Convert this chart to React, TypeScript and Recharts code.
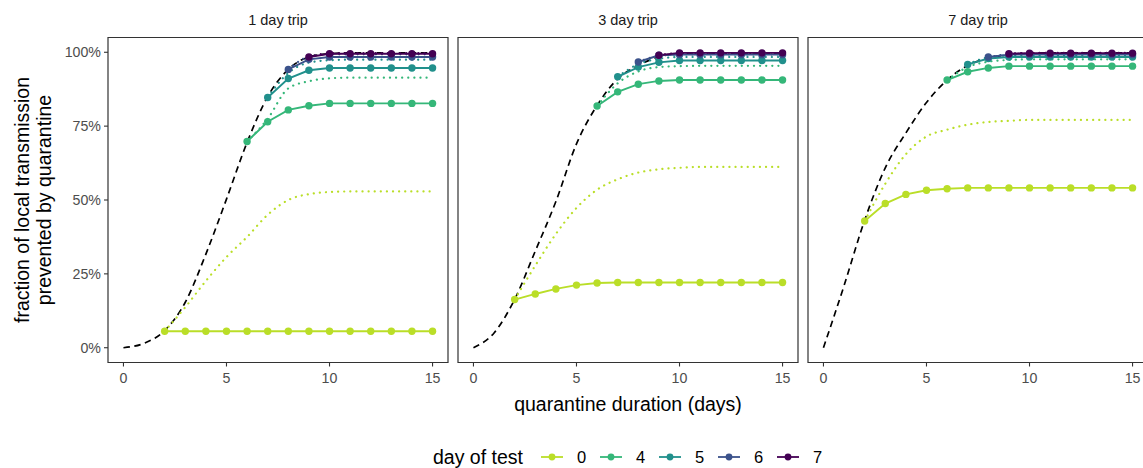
import React from 'react';
import { LineChart, Line, XAxis, YAxis, ReferenceArea } from 'recharts';

const durations = [0, 1, 2, 3, 4, 5, 6, 7, 8, 9, 10, 11, 12, 13, 14, 15];
const tripLabels = ['1 day trip', '3 day trip', '7 day trip'];
const testDays = [0, 4, 5, 6, 7];
const testColors = ['#BADE28', '#35B779', '#21908C', '#3B528B', '#440154'];
const xTicks = [0, 5, 10, 15];
const yTicks = [0, 25, 50, 75, 100];
const N = null;

// ---- 1 day trip ----
const noTest1 = [0, 1.5, 5.8, 15.4, 31.7, 50.3, 69.5, 85, 94.2, 98.4, 99.5, 99.8, 99.8, 99.8, 99.8, 99.8];
const solid0_1 = [N, N, 5.6, 5.6, 5.6, 5.6, 5.6, 5.6, 5.6, 5.6, 5.6, 5.6, 5.6, 5.6, 5.6, 5.6];
const solid4_1 = [N, N, N, N, N, N, 69.8, 76.5, 80.5, 81.9, 82.7, 82.7, 82.7, 82.7, 82.7, 82.7];
const solid5_1 = [N, N, N, N, N, N, N, 84.7, 91.1, 93.9, 94.7, 94.7, 94.7, 94.7, 94.7, 94.7];
const solid6_1 = [N, N, N, N, N, N, N, N, 94.2, 97.6, 98.4, 98.4, 98.4, 98.4, 98.4, 98.4];
const solid7_1 = [N, N, N, N, N, N, N, N, N, 98.4, 99.5, 99.5, 99.5, 99.5, 99.5, 99.5];
const dotted0_1 = [N, N, 5.6, 13.7, 22.6, 30.7, 37.5, 45, 50, 52, 52.7, 52.9, 52.9, 52.9, 52.9, 52.9];
const dotted4_1 = [N, N, N, N, N, N, 69.8, 77.5, 87.8, 90.2, 91.2, 91.4, 91.4, 91.4, 91.4, 91.4];
const dotted5_1 = [N, N, N, N, N, N, N, 84.7, 93, 96.5, 97.3, 97.5, 97.5, 97.5, 97.5, 97.5];
const dotted6_1 = [N, N, N, N, N, N, N, N, 94.2, 98.5, 99.3, 99.3, 99.3, 99.3, 99.3, 99.3];
const dotted7_1 = [N, N, N, N, N, N, N, N, N, 98.4, 99.7, 99.7, 99.7, 99.7, 99.7, 99.7];

// ---- 3 day trip ----
const noTest3 = [0, 5, 16.4, 32.7, 49.5, 69, 82, 91, 95.5, 98.5, 99.5, 99.8, 99.8, 99.8, 99.8, 99.8];
const solid0_3 = [N, N, 16.3, 18.2, 19.9, 21.2, 21.9, 22.1, 22.1, 22.1, 22.1, 22.1, 22.1, 22.1, 22.1, 22.1];
const solid4_3 = [N, N, N, N, N, N, 81.8, 86.6, 89.2, 90.3, 90.6, 90.6, 90.6, 90.6, 90.6, 90.6];
const solid5_3 = [N, N, N, N, N, N, N, 91.7, 95, 96.6, 97.2, 97.2, 97.2, 97.2, 97.2, 97.2];
const solid6_3 = [N, N, N, N, N, N, N, N, 96.7, 99, 99.2, 99.2, 99.2, 99.2, 99.2, 99.2];
const solid7_3 = [N, N, N, N, N, N, N, N, N, 99, 99.8, 99.8, 99.8, 99.8, 99.8, 99.8];
const dotted0_3 = [N, N, 16.3, 27.8, 38.5, 47.3, 53.5, 57, 59.3, 60.4, 60.9, 61.2, 61.2, 61.2, 61.2, 61.2];
const dotted4_3 = [N, N, N, N, N, N, 81.8, 89.5, 93.5, 95, 95.3, 95.4, 95.4, 95.4, 95.4, 95.4];
const dotted5_3 = [N, N, N, N, N, N, N, 91.7, 96, 97.8, 98.4, 98.4, 98.4, 98.4, 98.4, 98.4];
const dotted6_3 = [N, N, N, N, N, N, N, N, 96.7, 98.8, 99.3, 99.3, 99.3, 99.3, 99.3, 99.3];
const dotted7_3 = [N, N, N, N, N, N, N, N, N, 99, 99.7, 99.7, 99.7, 99.7, 99.7, 99.7];

// ---- 7 day trip ----
const noTest7 = [0, 21, 43.2, 60.9, 72.7, 83, 90.6, 95.5, 98, 99.2, 99.6, 99.8, 99.8, 99.8, 99.8, 99.8];
const solid0_7 = [N, N, 42.9, 48.8, 51.9, 53.3, 53.8, 54.1, 54.1, 54.1, 54.1, 54.1, 54.1, 54.1, 54.1, 54.1];
const solid4_7 = [N, N, N, N, N, N, 90.6, 93.4, 94.7, 95.3, 95.3, 95.3, 95.3, 95.3, 95.3, 95.3];
const solid5_7 = [N, N, N, N, N, N, N, 95.9, 97.9, 98.4, 98.4, 98.4, 98.4, 98.4, 98.4, 98.4];
const solid6_7 = [N, N, N, N, N, N, N, N, 98.4, 99.2, 99.2, 99.2, 99.2, 99.2, 99.2, 99.2];
const solid7_7 = [N, N, N, N, N, N, N, N, N, 99.5, 99.7, 99.7, 99.7, 99.7, 99.7, 99.7];
const dotted0_7 = [N, N, 42.9, 55.5, 65.5, 71.5, 73.8, 75.5, 76.4, 76.8, 77.1, 77.1, 77.1, 77.1, 77.1, 77.1];
const dotted4_7 = [N, N, N, N, N, N, 90.6, 95, 96.8, 97.4, 97.6, 97.6, 97.6, 97.6, 97.6, 97.6];
const dotted5_7 = [N, N, N, N, N, N, N, 95.9, 98.3, 98.9, 98.9, 98.9, 98.9, 98.9, 98.9, 98.9];
const dotted6_7 = [N, N, N, N, N, N, N, N, 98.4, 99.3, 99.5, 99.5, 99.5, 99.5, 99.5, 99.5];
const dotted7_7 = [N, N, N, N, N, N, N, N, N, 99.5, 99.8, 99.8, 99.8, 99.8, 99.8, 99.8];

const panels = [
  { noTest: noTest1, solid: [solid0_1, solid4_1, solid5_1, solid6_1, solid7_1], dotted: [dotted0_1, dotted4_1, dotted5_1, dotted6_1, dotted7_1] },
  { noTest: noTest3, solid: [solid0_3, solid4_3, solid5_3, solid6_3, solid7_3], dotted: [dotted0_3, dotted4_3, dotted5_3, dotted6_3, dotted7_3] },
  { noTest: noTest7, solid: [solid0_7, solid4_7, solid5_7, solid6_7, solid7_7], dotted: [dotted0_7, dotted4_7, dotted5_7, dotted6_7, dotted7_7] },
];

const FONT = '"Liberation Sans", Arial, Helvetica, sans-serif';
const PANEL_W = 340;
const PLOT_TOP = 37.5;
const PLOT_H = 325;
const panelLefts = [108, 458, 808];
const X_DOMAIN = [-0.75, 15.75];
const Y_DOMAIN = [-5, 105];

function buildRows(p: any) {
  return durations.map((d, i) => {
    const row: any = { d, noTest: p.noTest[i] };
    testDays.forEach((t, k) => {
      row['s' + t] = p.solid[k][i];
      row['p' + t] = p.dotted[k][i];
    });
    return row;
  });
}

const tickStyle = { fill: '#4D4D4D', fontSize: 14.2, fontFamily: FONT };

function Panel({ idx }: { idx: number }) {
  const rows = buildRows(panels[idx]);
  const first = idx === 0;
  const yAxisW = first ? 60 : 0;
  const mLeft = first ? panelLefts[0] - yAxisW : 10;
  const mRight = 10;
  const width = mLeft + yAxisW + PANEL_W + mRight;
  const xAxisH = 30;
  const height = PLOT_TOP + PLOT_H + xAxisH + 10;
  const chartLeft = first ? 0 : panelLefts[idx] - mLeft;
  return (
    <div style={{ position: 'absolute', left: chartLeft, top: 0, width, height }}>
      <LineChart
        width={width}
        height={height}
        data={rows}
        margin={{ top: PLOT_TOP, right: mRight, bottom: 10, left: mLeft }}
      >
        <XAxis
          dataKey="d"
          type="number"
          domain={X_DOMAIN}
          ticks={xTicks}
          allowDataOverflow
          axisLine={false}
          tickLine={{ stroke: '#333333', strokeWidth: 1.1 }}
          tickSize={4}
          tickMargin={6}
          tick={tickStyle}
          height={xAxisH}
        />
        <YAxis
          type="number"
          domain={Y_DOMAIN}
          ticks={yTicks}
          allowDataOverflow
          hide={!first}
          width={yAxisW}
          axisLine={false}
          tickLine={{ stroke: '#333333', strokeWidth: 1.1 }}
          tickSize={4}
          tickMargin={3}
          tick={tickStyle}
          tickFormatter={(v: number) => v + '%'}
        />
        <Line
          dataKey="noTest"
          type="monotone"
          stroke="#000000"
          strokeWidth={1.7}
          strokeDasharray="6.5 4.5"
          dot={false}
          activeDot={false}
          isAnimationActive={false}
        />
        {testDays.map((t, k) => (
          <Line
            key={'p' + t}
            dataKey={'p' + t}
            type="monotone"
            stroke={testColors[k]}
            strokeWidth={2.2}
            strokeDasharray="0.1 6"
            strokeLinecap="round"
            dot={false}
            activeDot={false}
            isAnimationActive={false}
          />
        ))}
        {testDays.map((t, k) => (
          <Line
            key={'s' + t}
            dataKey={'s' + t}
            type="linear"
            stroke={testColors[k]}
            strokeWidth={1.9}
            dot={{ r: 3.7, fill: testColors[k], stroke: testColors[k], strokeWidth: 0 }}
            activeDot={false}
            isAnimationActive={false}
          />
        ))}
        <ReferenceArea
          x1={X_DOMAIN[0]}
          x2={X_DOMAIN[1]}
          y1={Y_DOMAIN[0]}
          y2={Y_DOMAIN[1]}
          fill="none"
          fillOpacity={0}
          stroke="#333333"
          strokeWidth={1.2}
          ifOverflow="visible"
        />
      </LineChart>
    </div>
  );
}

export default function App() {
  const legendX = [540, 599, 658, 717, 776];
  return (
    <div
      style={{
        position: 'absolute',
        left: 0,
        top: 0,
        width: 1143,
        height: 468,
        overflow: 'hidden',
        background: '#ffffff',
        fontFamily: FONT,
      }}
    >
      {tripLabels.map((lab, i) => (
        <div
          key={lab}
          style={{
            position: 'absolute',
            left: panelLefts[i],
            width: PANEL_W,
            top: 11,
            textAlign: 'center',
            fontSize: 14.5,
            color: '#1A1A1A',
            lineHeight: '18px',
          }}
        >
          {lab}
        </div>
      ))}
      {[0, 1, 2].map((i) => (
        <Panel key={i} idx={i} />
      ))}
      <div
        style={{
          position: 'absolute',
          left: 108,
          width: 1040,
          top: 392,
          textAlign: 'center',
          fontSize: 19.5,
          color: '#000000',
          lineHeight: '24px',
        }}
      >
        quarantine duration (days)
      </div>
      <div
        style={{
          position: 'absolute',
          left: 34 - 170,
          top: 200 - 23,
          width: 340,
          height: 46,
          transform: 'rotate(-90deg)',
          textAlign: 'center',
          fontSize: 19.5,
          color: '#000000',
          lineHeight: '22px',
        }}
      >
        fraction of local transmission
        <br />
        prevented by quarantine
      </div>
      <div
        style={{
          position: 'absolute',
          left: 433,
          top: 445,
          fontSize: 19.5,
          color: '#000000',
          lineHeight: '24px',
        }}
      >
        day of test
      </div>
      {testDays.map((t, k) => (
        <React.Fragment key={'leg' + t}>
          <svg
            style={{ position: 'absolute', left: legendX[k], top: 451 }}
            width={24}
            height={12}
          >
            <line x1={1} y1={6} x2={23} y2={6} stroke={testColors[k]} strokeWidth={1.8} />
            <circle cx={12} cy={6} r={3.4} fill={testColors[k]} />
          </svg>
          <div
            style={{
              position: 'absolute',
              left: legendX[k] + 37,
              top: 446,
              fontSize: 16.5,
              color: '#000000',
              lineHeight: '22px',
            }}
          >
            {t}
          </div>
        </React.Fragment>
      ))}
    </div>
  );
}
